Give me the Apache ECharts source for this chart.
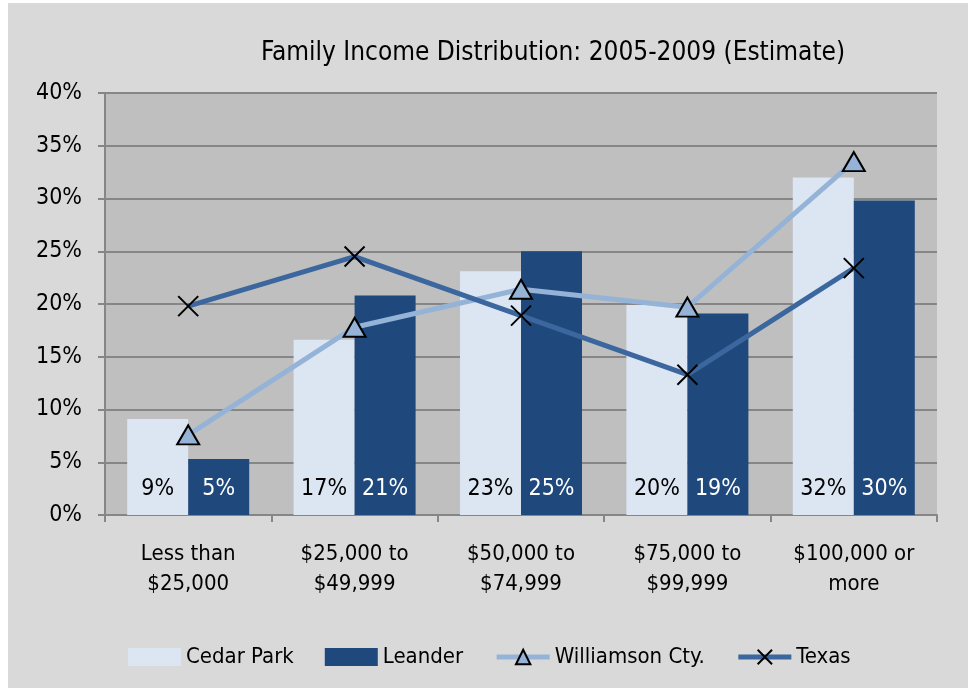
<!DOCTYPE html>
<html>
<head>
<meta charset="utf-8">
<script src="https://cdn.jsdelivr.net/npm/echarts@6/dist/echarts.min.js"></script>
<style>
body{margin:0;background:#fff;}
#chart{position:absolute;left:8px;top:3px;width:960px;height:685px;background:#d9d9d9;}
</style>
</head>
<body>
<div id="chart"></div>
<script>
var categories=['Less than\n$25,000','$25,000 to\n$49,999','$50,000 to\n$74,999','$75,000 to\n$99,999','$100,000 or\nmore'];
var cedarPark=[9.1,16.6,23.1,19.9,32.0];
var leander=[5.3,20.8,25.0,19.1,29.8];
var williamson=[7.6,17.8,21.4,19.7,33.5];
var texas=[19.8,24.5,18.9,13.3,23.4];
var yTicks=[0,5,10,15,20,25,30,35,40];

var font="'Liberation Sans Narrow','Arial Narrow','DejaVu Sans Condensed',sans-serif";
var myChart=echarts.init(document.getElementById('chart'));
var option={
    backgroundColor:'#d9d9d9',
    textStyle:{fontFamily:font},
    title:{
        text:'Family Income Distribution: 2005-2009 (Estimate)',
        left:540,
        textAlign:'center',
        top:32,
        textStyle:{fontFamily:font,fontSize:26,fontWeight:'normal',color:'#000'}
    },
    legend:{
        left:115,
        top:638,
        itemWidth:53,
        itemHeight:18,
        itemGap:31,
        textStyle:{fontFamily:font,fontSize:22,color:'#000'},
        data:[
            {name:'Cedar Park',icon:'rect'},
            {name:'Leander',icon:'rect'},
            {name:'Williamson Cty.',lineStyle:{width:5}},
            {name:'Texas',lineStyle:{width:5}}
        ]
    },
    grid:{
        left:97,top:90,width:832,height:422,
        show:true,backgroundColor:'#bfbfbf',borderWidth:0
    },
    xAxis:{
        type:'category',
        data:categories,
        axisLine:{lineStyle:{color:'#868686',width:2}},
        axisTick:{show:true,length:7,lineStyle:{color:'#868686',width:2}},
        axisLabel:{fontFamily:font,fontSize:22,color:'#000',lineHeight:30,margin:24,interval:0}
    },
    yAxis:{
        type:'value',
        min:yTicks[0],
        max:yTicks[yTicks.length-1],
        interval:5,
        axisLine:{show:true,lineStyle:{color:'#868686',width:2}},
        axisTick:{show:true,length:7,lineStyle:{color:'#868686',width:2}},
        splitLine:{lineStyle:{color:'#868686',width:2}},
        axisLabel:{fontFamily:font,fontSize:23,color:'#000',margin:23,formatter:'{value}%'}
    },
    series:[
        {
            name:'Cedar Park',type:'bar',data:cedarPark,
            barWidth:61,barGap:'0%',
            itemStyle:{color:'#dce6f2'},
            label:{show:true,position:'insideBottom',distance:14,fontFamily:font,fontSize:23,color:'#000',
                formatter:function(p){return Math.round(p.value)+'%';}}
        },
        {
            name:'Leander',type:'bar',data:leander,
            barWidth:61,barGap:'0%',
            itemStyle:{color:'#1f497d'},
            label:{show:true,position:'insideBottom',distance:14,fontFamily:font,fontSize:23,color:'#fff',
                formatter:function(p){return Math.round(p.value)+'%';}}
        },
        {
            name:'Williamson Cty.',type:'line',data:williamson,
            symbol:'triangle',symbolSize:[22,19],
            lineStyle:{color:'#95b3d7',width:5},
            itemStyle:{color:'#95b3d7',borderColor:'#000',borderWidth:2},
            z:3
        },
        {
            name:'Texas',type:'line',data:texas,
            symbol:'path://M0,0L10,10M10,0L0,10',symbolSize:20,
            lineStyle:{color:'#3b679e',width:5},
            itemStyle:{color:'rgba(0,0,0,0)',borderColor:'#000',borderWidth:2},
            z:4
        }
    ]
};
option && myChart.setOption(option);
</script>
</body>
</html>
